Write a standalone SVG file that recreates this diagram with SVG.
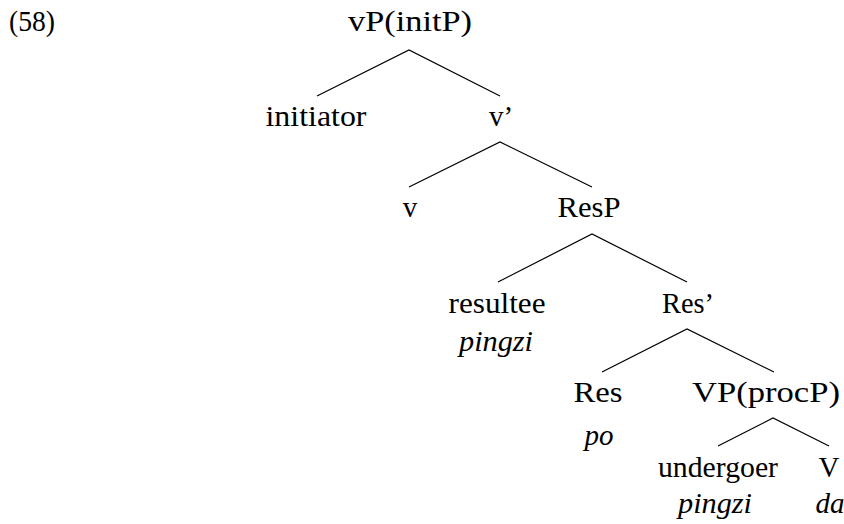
<svg xmlns="http://www.w3.org/2000/svg" width="844" height="524" viewBox="0 0 844 524" font-family="'Liberation Serif', 'DejaVu Serif', serif">
<style>
text{font-size:29px;fill:#000;text-anchor:middle}
.it{font-style:italic}
.edge{stroke:#000;stroke-width:1.2;fill:none}
</style>
<rect width="844" height="524" fill="#fff"/>
<text x="32" y="31" textLength="46" lengthAdjust="spacingAndGlyphs">(58)</text>
<g id="connectors">
<path class="edge" d="M317,96 L409,50 L500,96"/>
<path class="edge" d="M409,187 L500,142 L592,187"/>
<path class="edge" d="M498,282 L592,234 L687,282"/>
<path class="edge" d="M602,372 L687,329 L774,372"/>
<path class="edge" d="M718,446 L773,418 L829,446"/>
</g>
<g id="vP"><text x="410" y="31" textLength="124" lengthAdjust="spacingAndGlyphs">vP(initP)</text></g>
<g id="initiator"><text x="316" y="126" textLength="101" lengthAdjust="spacingAndGlyphs">initiator</text></g>
<g id="vbar"><text x="501" y="126">v’</text></g>
<g id="v"><text x="410" y="217">v</text></g>
<g id="ResP"><text x="589" y="217" textLength="63" lengthAdjust="spacingAndGlyphs">ResP</text></g>
<g id="resultee"><text x="497" y="313" textLength="97" lengthAdjust="spacingAndGlyphs">resultee</text><text class="it" x="496" y="351" textLength="74" lengthAdjust="spacingAndGlyphs">pingzi</text></g>
<g id="Resbar"><text x="688" y="313" textLength="52" lengthAdjust="spacingAndGlyphs">Res’</text></g>
<g id="Res"><text x="598" y="402" textLength="49" lengthAdjust="spacingAndGlyphs">Res</text><text class="it" x="599" y="445">po</text></g>
<g id="VP"><text x="766" y="402" textLength="148" lengthAdjust="spacingAndGlyphs">VP(procP)</text></g>
<g id="undergoer"><text x="718" y="477" textLength="120" lengthAdjust="spacingAndGlyphs">undergoer</text><text class="it" x="715" y="513" textLength="74" lengthAdjust="spacingAndGlyphs">pingzi</text></g>
<g id="V"><text x="829" y="477">V</text><text class="it" x="830" y="513">da</text></g>
</svg>
